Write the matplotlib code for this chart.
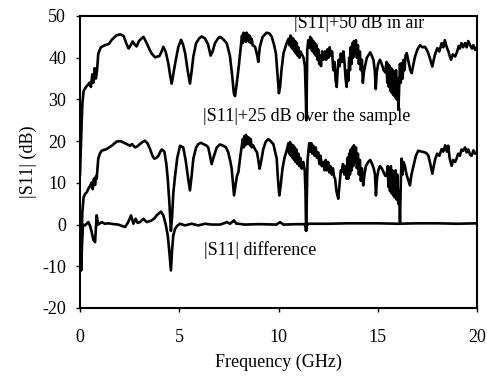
import matplotlib
matplotlib.use("Agg")
import matplotlib.pyplot as plt

# |S11| + 50 dB, measured in air
air_freq = [0.00, 0.04, 0.08, 0.12, 0.18, 0.30, 0.40, 0.48, 0.55, 0.62, 0.68, 0.74, 0.80, 0.86, 0.92,
            1.05, 1.25, 1.45, 1.60, 1.85, 2.05, 2.20, 2.35, 2.45, 2.55, 2.65, 2.75, 2.85, 2.97, 3.10,
            3.20, 3.36, 3.50, 3.61, 3.78, 4.00, 4.12, 4.20, 4.32, 4.45, 4.55, 4.62, 4.70, 4.80, 4.95,
            5.09, 5.20, 5.30, 5.42, 5.54, 5.63, 5.71, 5.85, 6.00, 6.13, 6.30, 6.45, 6.58, 6.68, 6.80,
            6.95, 7.05, 7.20, 7.39, 7.55, 7.66, 7.75, 7.81, 7.90, 8.00, 8.10, 8.16, 8.20, 8.24, 8.28,
            8.32, 8.36, 8.40, 8.44, 8.48, 8.52, 8.56, 8.60, 8.65, 8.70, 8.82, 8.93, 8.98, 9.06, 9.20,
            9.40, 9.55, 9.66, 9.78, 9.87, 9.95, 10.02, 10.08, 10.15, 10.25, 10.41, 10.50, 10.55, 10.60,
            10.64, 10.68, 10.72, 10.76, 10.80, 10.84, 10.88, 10.92, 10.96, 11.00, 11.05, 11.10, 11.18,
            11.26, 11.33, 11.38, 11.40, 11.42, 11.45, 11.50, 11.55, 11.60, 11.64, 11.68, 11.72, 11.76,
            11.80, 11.84, 11.88, 11.92, 11.96, 12.00, 12.05, 12.09, 12.14, 12.20, 12.26, 12.34, 12.40,
            12.46, 12.52, 12.58, 12.64, 12.70, 12.76, 12.82, 12.88, 12.93, 12.98, 13.03, 13.08, 13.14,
            13.20, 13.27, 13.33, 13.38, 13.43, 13.48, 13.52, 13.56, 13.60, 13.64, 13.68, 13.72, 13.76,
            13.80, 13.85, 13.90, 13.95, 14.00, 14.05, 14.10, 14.15, 14.20, 14.25, 14.30, 14.36, 14.45,
            14.52, 14.62, 14.70, 14.78, 14.85, 14.90, 14.95, 15.02, 15.11, 15.20, 15.30, 15.38, 15.44,
            15.48, 15.52, 15.56, 15.60, 15.64, 15.68, 15.72, 15.76, 15.80, 15.84, 15.88, 15.92, 15.96,
            16.00, 16.04, 16.08, 16.12, 16.16, 16.20, 16.25, 16.30, 16.35, 16.40, 16.46, 16.55, 16.64,
            16.71, 16.80, 16.88, 17.00, 17.13, 17.25, 17.38, 17.48, 17.55, 17.65, 17.75, 17.82, 17.90,
            18.00, 18.10, 18.22, 18.30, 18.38, 18.47, 18.56, 18.62, 18.69, 18.78, 18.90, 19.00, 19.08,
            19.14, 19.22, 19.30, 19.40, 19.48, 19.56, 19.65, 19.74, 19.82, 19.90, 20.00]
air_db = [12, 18, 24, 29, 32, 33, 33.5, 34, 33, 36, 34, 37.5, 35, 37, 41,
          42.5, 43, 43.3, 44.3, 45.4, 45.6, 45.2, 43.2, 42.2, 43.0, 43.9, 43.2, 42.7, 44.0, 44.6,
          45.0, 43.5, 42.0, 41.0, 40.1, 40.4, 41.6, 42.6, 41.4, 38.6, 35.5, 33.8, 36, 38.8, 42.5,
          44.3, 43.0, 41.0, 37, 33.8, 37, 40.3, 43.5, 44.6, 45.1, 44.6, 43.2, 40.5, 41.5, 43.5,
          44.6, 45.0, 44.5, 43.5, 40.5, 36, 31.5, 30.8, 34, 38, 42.5, 45.3, 43.5, 46, 44,
          45.8, 43.8, 46, 44.5, 45.5, 43.8, 45.2, 43.5, 44.5, 43, 42.6, 40.5, 39.0, 42.6, 45,
          46, 45.8, 45.0, 43, 41, 36, 31.5, 33, 37, 41, 43.5, 44.5, 43, 45.3,
          42.5, 44.8, 42, 44.5, 41.5, 44, 41, 43.5, 40.5, 42.5, 40, 41.5, 40.8,
          40, 38, 30, 25, 31, 42, 44.2, 42.5, 45, 42, 44.5, 41.5, 44,
          41, 43.5, 40.5, 43, 39.5, 42, 38.5, 40.5, 38, 41.5, 39.5, 41.5, 39.5,
          42, 40, 42.5, 40.5, 41.5, 37, 39, 34.5, 33, 37, 39.5, 38, 41,
          39, 41.5, 38.5, 35, 33, 37, 34.5, 40, 37, 42.5, 38.5, 43.5, 40,
          44, 41, 44.2, 40, 43, 38.5, 41.5, 37, 39.5, 34, 36.5, 38, 40,
          40.5, 41.3, 40.5, 39.5, 37, 32.5, 36.5, 38.5, 39.5, 38.5, 37, 36.5, 39,
          34, 38.5, 33, 38, 32, 37.5, 31.5, 37, 31, 36.5, 30.5, 37, 30,
          35, 27.5, 33, 38.5, 34, 38.7, 35, 39.5, 37, 40.5, 41.1, 39, 37,
          36.3, 38.5, 40.3, 42, 43, 42.5, 42.6, 41.8, 41, 39.5, 37.9, 39.5, 41,
          42.3, 41.5, 43.5, 42.5, 44.2, 42.6, 41.5, 40.5, 39.5, 40.8, 40.3, 41.5, 42.8,
          42.2, 43.5, 42.5, 43.5, 42.5, 44, 43, 42.2, 43, 41.9, 42.5]

# |S11| + 25 dB, measured over the sample
smp_freq = [0.00, 0.04, 0.08, 0.12, 0.18, 0.25, 0.35, 0.42, 0.50, 0.59, 0.64, 0.70, 0.76, 0.80, 0.84,
            0.92, 1.00, 1.09, 1.34, 1.60, 1.75, 1.85, 2.05, 2.18, 2.35, 2.52, 2.62, 2.77, 2.90, 3.02,
            3.15, 3.27, 3.40, 3.53, 3.65, 3.74, 3.85, 3.95, 4.05, 4.12, 4.25, 4.35, 4.42, 4.50, 4.58,
            4.64, 4.70, 4.79, 4.90, 5.04, 5.20, 5.32, 5.45, 5.54, 5.62, 5.71, 5.85, 5.96, 6.10, 6.21,
            6.35, 6.46, 6.55, 6.63, 6.72, 6.89, 7.05, 7.22, 7.35, 7.47, 7.58, 7.64, 7.72, 7.76, 7.82,
            7.90, 7.98, 8.08, 8.15, 8.20, 8.24, 8.28, 8.32, 8.36, 8.40, 8.44, 8.48, 8.52, 8.56, 8.60,
            8.65, 8.72, 8.82, 8.92, 8.98, 9.05, 9.12, 9.23, 9.35, 9.49, 9.60, 9.74, 9.85, 9.91, 9.97,
            10.04, 10.10, 10.20, 10.30, 10.41, 10.50, 10.54, 10.58, 10.62, 10.66, 10.70, 10.74, 10.78,
            10.82, 10.86, 10.90, 10.95, 11.00, 11.05, 11.10, 11.17, 11.25, 11.32, 11.36, 11.39, 11.42,
            11.46, 11.50, 11.55, 11.60, 11.65, 11.70, 11.76, 11.82, 11.88, 11.94, 12.00, 12.06, 12.12,
            12.18, 12.26, 12.32, 12.38, 12.44, 12.50, 12.56, 12.62, 12.68, 12.74, 12.80, 12.85, 12.92,
            13.01, 13.08, 13.14, 13.18, 13.25, 13.32, 13.38, 13.43, 13.48, 13.52, 13.56, 13.60, 13.64,
            13.68, 13.72, 13.76, 13.80, 13.85, 13.90, 13.95, 14.00, 14.05, 14.10, 14.15, 14.20, 14.27,
            14.33, 14.40, 14.52, 14.62, 14.72, 14.80, 14.86, 14.91, 14.96, 15.03, 15.11, 15.20, 15.30,
            15.38, 15.45, 15.50, 15.54, 15.58, 15.62, 15.66, 15.70, 15.74, 15.78, 15.82, 15.86, 15.90,
            15.94, 15.98, 16.04, 16.08, 16.12, 16.16, 16.20, 16.25, 16.30, 16.37, 16.45, 16.55, 16.62,
            16.70, 16.80, 16.92, 17.04, 17.20, 17.38, 17.48, 17.55, 17.65, 17.75, 17.82, 17.90, 18.00,
            18.10, 18.22, 18.30, 18.40, 18.48, 18.55, 18.62, 18.72, 18.80, 18.90, 18.97, 19.05, 19.14,
            19.22, 19.31, 19.40, 19.48, 19.56, 19.65, 19.73, 19.82, 19.90, 20.00]
smp_db = [-11, -8, -3, 3, 6.5, 7.3, 7.8, 8.6, 9.2, 10.1, 8.5, 11, 9.5, 11.5, 11,
          15.8, 17, 17.7, 18.1, 18.9, 19.5, 19.9, 20, 19.7, 19.3, 18.9, 19.3, 18.5, 18.8, 19.3,
          19.8, 20.1, 19.5, 18.1, 16.5, 15.8, 16, 16.5, 17.5, 18.0, 17.5, 14.5, 11, 5.5, -1.5,
          2, 7.5, 11.7, 16, 18.9, 18.5, 15.5, 11, 8.2, 11.5, 15.8, 18.5, 19.3, 19.6, 19.3,
          19.0, 18.5, 16.5, 14.5, 16, 18.5, 19.2, 18.9, 18.5, 17.3, 15, 13.4, 9, 7.0, 9,
          11.5, 12.6, 16.5, 18.9, 20.5, 18.5, 21.2, 19, 21.5, 19.3, 21, 19.5, 20.8, 19, 20.5,
          18.5, 19, 18, 17.3, 15.5, 13.4, 15, 18.0, 19.8, 20.5, 20, 19.3, 17, 15.8, 11,
          7, 9, 13.4, 16, 17.7, 19.5, 17, 19.8, 16.5, 19.2, 16, 19, 15.5,
          18.5, 15, 18, 14.5, 17, 14, 16, 13.4, 15, 13, 8, -1.5, 5,
          15, 17.3, 19.5, 17.5, 19.5, 17, 18.9, 16.5, 18.5, 16, 17.3, 14.5, 16.5,
          14, 15, 13, 15.5, 13, 15, 12.5, 14, 12, 13.5, 11.5, 11, 8,
          6.2, 10, 13, 12.6, 14.5, 12, 14, 11, 16, 11, 17, 12, 18,
          13, 18.5, 14, 19, 15, 18.5, 13.5, 17, 12, 15.5, 10.5, 13.5, 9.4,
          12, 14, 15, 15.5, 14.5, 13.4, 12, 7, 11, 13, 14, 13.5, 12.5,
          11.7, 11.7, 14, 9, 13.5, 8, 14, 7.5, 13, 7, 12.5, 6.5, 13,
          6, 12, 5, 8, 0.6, 10, 15.8, 12, 15, 14, 12, 10.5, 9.4,
          12, 14, 16.5, 17.7, 17.5, 17.3, 17, 16.5, 14.5, 12.2, 14, 15.8, 17,
          16.5, 18.1, 17.5, 19, 17.5, 18.9, 16, 14.1, 15.5, 15, 15.8, 17, 16.5,
          18, 17.7, 18.5, 17.3, 18, 16.8, 16.5, 17.8, 17, 17.3]

# |S11| difference
dif_freq = [0.00, 0.03, 0.06, 0.10, 0.15, 0.25, 0.42, 0.52, 0.59, 0.67, 0.76, 0.80, 0.84, 0.92, 1.09,
            1.25, 1.43, 1.70, 1.93, 2.10, 2.27, 2.43, 2.57, 2.69, 2.80, 2.90, 3.02, 3.19, 3.36, 3.50,
            3.61, 3.75, 3.86, 4.00, 4.08, 4.20, 4.32, 4.42, 4.50, 4.58, 4.64, 4.70, 4.79, 4.90, 5.04,
            5.29, 5.62, 5.96, 6.29, 6.63, 7.05, 7.25, 7.39, 7.56, 7.76, 7.88, 7.98, 8.30, 9.00, 9.90,
            10.08, 10.24, 11.00, 11.30, 11.36, 11.39, 11.42, 11.50, 12.50, 13.50, 15.00, 16.00, 17.00,
            18.00, 19.00, 20.00]
dif_db = [0, -6, -11, -5, 0, -0.2, 0.6, -0.5, -1.8, -3.6, -4.2, -1, 2.2, 0, 0.6,
          0.2, 0.3, 0.1, 0, -0.3, -0.6, 0.6, 2.2, 0.2, 1.4, 0.4, 0.6, 1.4, 0.6, 0.8,
          1, 1.5, 2.2, 2.8, 3.1, 2.2, 0, -2.6, -6.5, -11, -6, -2.6, -1, -0.3, 0.2,
          -0.2, 0.2, -0.2, 0.2, 0, 0, 0.3, 0.6, 0.2, 1, 0.2, 0.2, 0, 0.1, 0,
          0.6, 0, 0.1, 0.1, -0.5, -1.5, -0.3, 0.2, 0.2, 0.3, 0.3, 0.2, 0.3,
          0.3, 0.2, 0.3]

x_ticks = [0, 5, 10, 15, 20]
y_ticks = [-20, -10, 0, 10, 20, 30, 40, 50]

plt.rcParams['font.family'] = ['Liberation Serif', 'DejaVu Serif']
plt.rcParams['axes.unicode_minus'] = False

fig = plt.figure(figsize=(4.87, 3.79), dpi=100)
ax = fig.add_axes([80 / 487, 1 - 308 / 379, 397 / 487, 292 / 379])

for f, v in [(air_freq, air_db), (smp_freq, smp_db), (dif_freq, dif_db)]:
    ax.plot(f, v, color='black', lw=1.9, solid_joinstyle='round')

ax.set_xlim(0, 20)
ax.set_ylim(-20, 50)
ax.set_xticks(x_ticks)
ax.set_yticks(y_ticks)
ax.tick_params(labelsize=13, length=3, width=1, pad=7)
ax.tick_params(axis='x', pad=12)
for s in ax.spines.values():
    s.set_linewidth(1.5)

ax.set_xlabel('Frequency (GHz)', fontsize=13, labelpad=6)
ax.set_ylabel('|S11| (dB)', fontsize=13, labelpad=4)

ax.text(10.8, 47.2, '|S11|+50 dB in air', fontsize=13)
ax.text(6.2, 24.9, '|S11|+25 dB over the sample', fontsize=13)
ax.text(6.25, -7.4, '|S11| difference', fontsize=13)

fig.savefig('out.png', dpi=100)
